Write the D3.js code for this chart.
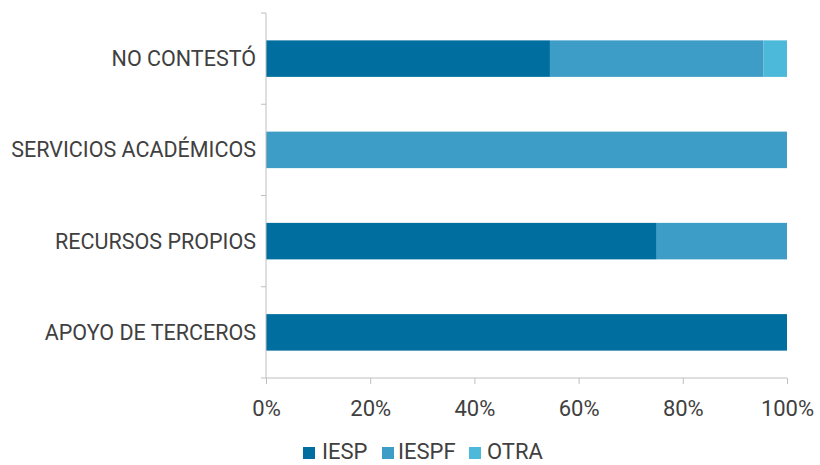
<!DOCTYPE html>
<html>
<head>
<meta charset="utf-8">
<script src="https://cdn.jsdelivr.net/npm/d3@7"></script>
<style>
  body { margin: 0; background: #fff; }
  text { font-family: Roboto, "Liberation Sans", sans-serif; fill: #404040; }
</style>
</head>
<body>
<div id="chart"></div>
<script>
// Categories, top to bottom
const categories = ["NO CONTESTÓ", "SERVICIOS ACADÉMICOS", "RECURSOS PROPIOS", "APOYO DE TERCEROS"];
const seriesNames = ["IESP", "IESPF", "OTRA"];
const iesp = [0.545, 0, 0.75, 1];
const iespf = [0.41, 1, 0.25, 0];
const otra = [0.045, 0, 0, 0];
const xTicks = [0, 0.2, 0.4, 0.6, 0.8, 1];
const colors = ["#006f9f", "#3e9dc7", "#4cb8da"];

const width = 820, height = 465;
const plotLeft = 266, plotRight = 787, plotTop = 13, plotBottom = 378;

const rows = categories.map((c, i) => ({ cat: c, IESP: iesp[i], IESPF: iespf[i], OTRA: otra[i] }));
const stacked = d3.stack().keys(seriesNames)(rows);

const svg = d3.select("#chart")
    .append("svg")
    .attr("width", width)
    .attr("height", height);

const x = d3.scaleLinear().domain([0, 1]).range([plotLeft, plotRight]);
const y = d3.scaleBand().domain(categories).range([plotTop, plotBottom]).paddingInner(0.6).paddingOuter(0.3);
const color = d3.scaleOrdinal().domain(seriesNames).range(colors);

// bars
svg.append("g")
    .selectAll("g")
    .data(stacked)
    .enter()
    .append("g")
    .attr("fill", d => color(d.key))
    .selectAll("rect")
    .data(d => d)
    .enter()
    .append("rect")
    .attr("x", d => x(d[0]))
    .attr("y", d => y(d.data.cat))
    .attr("width", d => x(d[1]) - x(d[0]))
    .attr("height", y.bandwidth());

// y axis: line + ticks at band boundaries
const step = (plotBottom - plotTop) / categories.length;
const yg = svg.append("g");
yg.append("line")
    .attr("x1", plotLeft).attr("x2", plotLeft)
    .attr("y1", plotTop).attr("y2", plotBottom)
    .attr("stroke", "#bfbfbf");
yg.selectAll(".yt")
    .data(d3.range(categories.length + 1))
    .enter()
    .append("line")
    .attr("x1", plotLeft - 5).attr("x2", plotLeft)
    .attr("y1", i => plotTop + i * step).attr("y2", i => plotTop + i * step)
    .attr("stroke", "#bfbfbf");
yg.selectAll(".yl")
    .data(categories)
    .enter()
    .append("text")
    .attr("x", plotLeft - 10)
    .attr("y", d => y(d) + y.bandwidth() / 2)
    .attr("dy", "0.35em")
    .attr("text-anchor", "end")
    .style("font-size", "21.5px")
    .text(d => d);

// x axis
const xAxis = svg.append("g")
    .attr("transform", `translate(0,${plotBottom})`)
    .call(d3.axisBottom(x).tickValues(xTicks).tickFormat(d3.format(".0%")).tickSize(6).tickPadding(16));
xAxis.selectAll("path, line").attr("stroke", "#bfbfbf");
xAxis.select(".domain").attr("d", `M${plotLeft},0H${plotRight}`);
xAxis.selectAll("text")
    .style("font-size", "22px")
    .style("font-family", "Roboto, sans-serif")
    .attr("fill", "#404040");

// legend
const legendX = [303, 382, 469];
const legendTextX = [322, 398, 487];
const legend = svg.append("g")
    .selectAll("g")
    .data(seriesNames)
    .enter()
    .append("g");
legend.append("rect")
    .attr("x", (d, i) => legendX[i]).attr("y", 447)
    .attr("width", 12).attr("height", 12)
    .attr("fill", d => color(d));
legend.append("text")
    .attr("x", (d, i) => legendTextX[i])
    .attr("y", 459)
    .style("font-size", "22px")
    .text(d => d);
</script>
</body>
</html>
